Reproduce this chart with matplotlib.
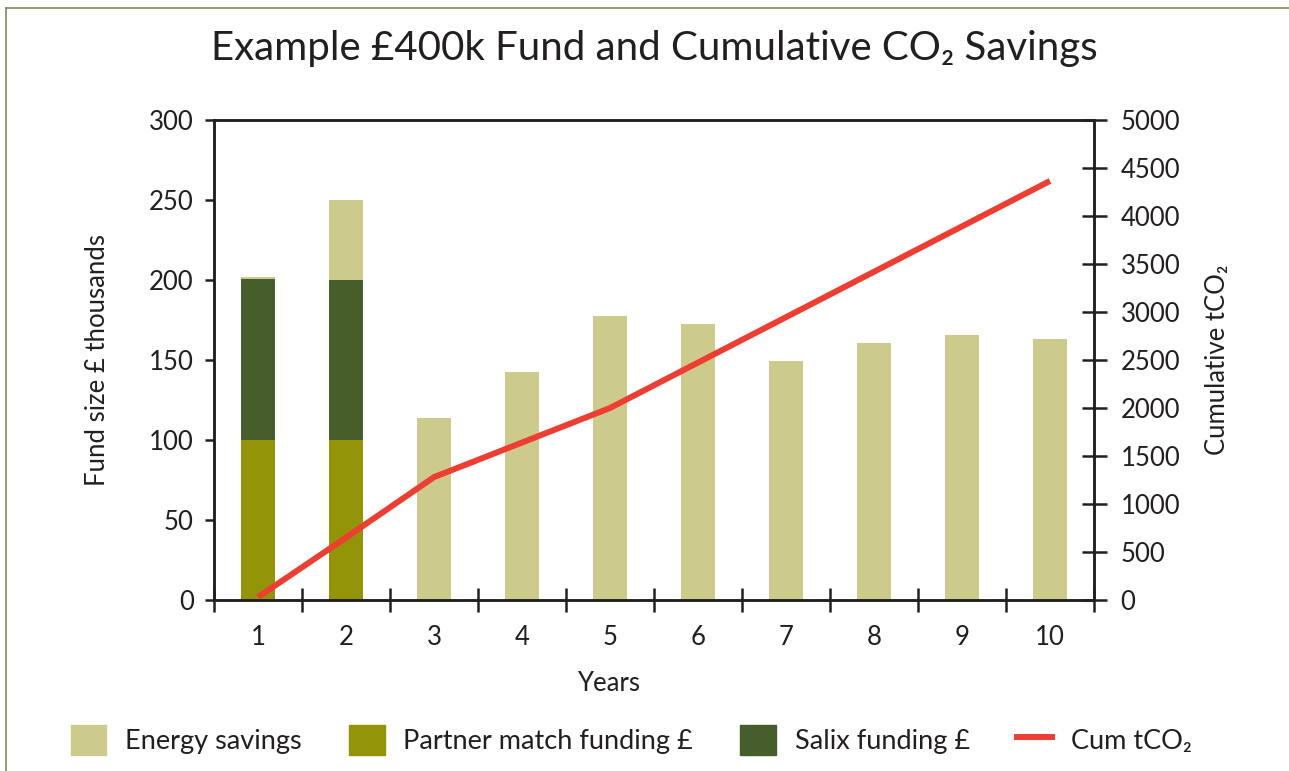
import numpy as np
import matplotlib
matplotlib.use('Agg')
import matplotlib.pyplot as plt
from matplotlib.patches import Patch
from matplotlib.lines import Line2D

plt.rcParams['font.family'] = ['Lato', 'DejaVu Sans']

# data
years = np.arange(1, 11)
partner = [100, 100, 0, 0, 0, 0, 0, 0, 0, 0]  # Partner match funding £k
salix = [100.5, 100, 0, 0, 0, 0, 0, 0, 0, 0]  # Salix funding £k
energy = [1.2, 50, 113.8, 142.5, 177.5, 172.5, 149.4, 160.6, 165.6, 163.1]  # Energy savings £k
cum_tco2 = [30, 650, 1280, 1640, 2000, 2473, 2946, 3419, 3892, 4365]
year_labels = ['1', '2', '3', '4', '5', '6', '7', '8', '9', '10']

c_energy = '#cccb8c'
c_partner = '#939407'
c_salix = '#465e2a'
c_line = '#ee3e32'
c_text = '#231f20'

fig = plt.figure(figsize=(12.89, 7.71), dpi=100)
ax = fig.add_axes([214/1289, 1-600/771, 880/1289, 480/771])

w = 0.39
ax.bar(years, partner, w, color=c_partner, zorder=2)
ax.bar(years, salix, w, bottom=partner, color=c_salix, zorder=2)
ax.bar(years, energy, w, bottom=np.array(partner)+np.array(salix), color=c_energy, zorder=2)

ax.set_xlim(0.5, 10.5)
ax.set_ylim(0, 300)
ax.set_yticks(np.arange(0, 301, 50))
ax.set_xticks(np.arange(0.5, 10.6, 1))
ax.set_xticklabels([])
ax.set_xticks(years, minor=True)
ax.set_xticklabels(year_labels, minor=True)
ax.tick_params(axis='x', which='major', direction='inout', length=17, width=1.8, color=c_text)
ax.tick_params(axis='x', which='minor', length=0, pad=18, labelsize=18.5, labelcolor=c_text)
ax.tick_params(axis='y', direction='out', length=6.5, width=1.8, color=c_text, labelsize=18.5, labelcolor=c_text, pad=8)
for s in ax.spines.values():
    s.set_linewidth(1.8)
    s.set_color(c_text)
ax.set_ylabel('Fund size £ thousands', fontsize=18.5, color=c_text, labelpad=28)
ax.set_xlabel('Years', fontsize=18.5, color=c_text)
ax.xaxis.set_label_coords(0.448, -0.147)

ax2 = ax.twinx()
ax2.plot(years, cum_tco2, color=c_line, lw=4.3, solid_capstyle='butt')
ax2.set_ylim(0, 5000)
ax2.set_yticks(np.arange(0, 5001, 500))
ax2.tick_params(axis='y', direction='inout', length=18, width=1.8, color=c_text, labelsize=18.5, labelcolor=c_text, pad=10)
for s in ax2.spines.values():
    s.set_linewidth(1.8)
    s.set_color(c_text)
ax2.set_ylabel('Cumulative tCO₂', fontsize=18.5, color=c_text, rotation=90, labelpad=18)

fig.text(0.508, 0.937, 'Example £400k Fund and Cumulative CO₂ Savings', ha='center', va='center',
         fontsize=29, color=c_text)

handles = [Patch(color=c_energy), Patch(color=c_partner), Patch(color=c_salix),
           Line2D([0], [0], color=c_line, lw=4.3)]
labels = ['Energy savings', 'Partner match funding £', 'Salix funding £', 'Cum tCO₂']
fig.legend(handles, labels, loc='center', bbox_to_anchor=(0.49, 0.04), ncol=4, frameon=False,
           fontsize=19.5, handlelength=1.3, handleheight=1.3, columnspacing=1.75, handletextpad=0.7,
           labelcolor=c_text)

# frame lines at top and left edge
fig.add_artist(Line2D([6/1289, 6/1289], [0, 1-8/771], color='#7d8c5c', lw=1.2))
fig.add_artist(Line2D([6/1289, 1], [1-8/771, 1-8/771], color='#7d8c5c', lw=1.2))

fig.savefig('out.png', dpi=100)
